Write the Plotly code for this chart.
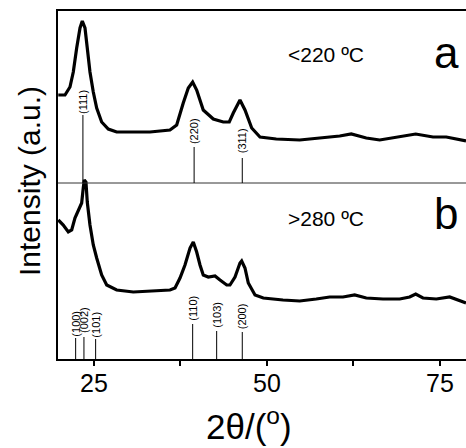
import plotly.graph_objects as go

# ---------------- data ----------------
# panel a (<220 ºC): 2theta, intensity (a.u.)
a_x = [19.84, 20.81, 21.53, 22.01, 22.50, 22.98, 23.31, 23.70, 24.03, 24.42, 24.90,
       25.39, 26.11, 27.07, 28.28, 30.68, 33.09, 35.98, 36.95, 37.90, 38.63, 39.26,
       39.84, 40.79, 42.24, 43.68, 44.55, 45.13, 46.10, 46.82, 47.79, 48.99, 51.34,
       54.73, 57.62, 60.51, 62.18, 64.35, 66.29, 69.18, 71.49, 73.99, 75.91, 78.76]
a_y = [264, 264, 272, 287, 311, 331, 338, 331, 311, 287, 267,
       251, 237, 230, 227, 227, 227, 229, 234, 256, 271, 277,
       269, 249, 240, 237, 237, 246, 259, 249, 231, 222, 220,
       219, 221, 223, 225, 221, 219, 222, 225, 222, 222, 218]

# panel b (>280 ºC)
b_x = [19.84, 20.56, 21.29, 21.78, 22.25, 22.73, 23.22, 23.45, 23.60, 23.84, 24.03,
       24.42, 24.90, 25.39, 26.11, 26.84, 28.28, 30.68, 33.09, 35.98, 36.71, 37.43,
       38.15, 38.88, 39.35, 39.84, 40.32, 40.79, 41.52, 42.49, 43.21, 44.18, 44.65,
       45.38, 46.10, 46.34, 46.82, 47.30, 48.27, 49.47, 52.31, 54.73, 57.12, 59.06,
       60.98, 62.67, 64.35, 66.76, 69.18, 70.62, 71.49, 72.54, 74.47, 76.40, 78.76]
b_y = [139, 134, 127, 129, 141, 149, 156, 171, 179, 177, 157,
       134, 114, 101, 84, 74, 69, 67, 68, 69, 71, 81,
       94, 111, 117, 107, 94, 84, 82, 83, 79, 74, 74,
       82, 96, 98, 91, 76, 64, 61, 59, 58, 60, 62,
       62, 64, 61, 60, 60, 62, 65, 61, 60, 62, 56]

# reference reflections, panel a
a_ref_pos = [23.4, 39.47, 46.43]
a_ref_lab = ["(111)", "(220)", "(311)"]
a_ref_top = [244, 212, 201]
a_lab_y = [257, 228, 218]

# reference reflections, panel b
b_ref_pos = [22.35, 23.55, 25.24, 39.26, 42.73, 46.43]
b_ref_lab = ["(100)", "(002)", "(101)", "(110)", "(103)", "(200)"]
b_ref_top = [21, 22, 20, 35, 28, 27]
b_lab_y = [35, 39, 34, 51, 44, 43]

panel_split = 176          # divider between the two patterns
x_range = [19.8, 78.76]
y_range = [0, 348]

tick_vals = [25, 50, 75]
tick_text = ["25", "50", "75"]

FONT = "Liberation Sans, Arial, sans-serif"

fig = go.Figure()

fig.add_trace(go.Scatter(x=a_x, y=a_y, mode="lines",
                         line=dict(color="black", width=3.2), hoverinfo="skip"))
fig.add_trace(go.Scatter(x=b_x, y=b_y, mode="lines",
                         line=dict(color="black", width=3.2), hoverinfo="skip"))

# divider
fig.add_trace(go.Scatter(x=x_range, y=[panel_split, panel_split], mode="lines",
                         line=dict(color="#333", width=1), hoverinfo="skip"))

# reference sticks
def sticks(pos, base, tops):
    xs, ys = [], []
    for p, t in zip(pos, tops):
        xs += [p, p, None]
        ys += [base, t, None]
    return xs, ys

sx, sy = sticks(a_ref_pos, panel_split, a_ref_top)
fig.add_trace(go.Scatter(x=sx, y=sy, mode="lines",
                         line=dict(color="black", width=1), hoverinfo="skip"))
sx, sy = sticks(b_ref_pos, 0, b_ref_top)
fig.add_trace(go.Scatter(x=sx, y=sy, mode="lines",
                         line=dict(color="black", width=1), hoverinfo="skip"))

for p, lab, ly in zip(a_ref_pos + b_ref_pos, a_ref_lab + b_ref_lab, a_lab_y + b_lab_y):
    fig.add_annotation(x=p, y=ly, text=lab, textangle=-90, showarrow=False,
                       font=dict(family=FONT, size=11, color="black"),
                       xanchor="center", yanchor="middle")

def ptext(px, py, text, size, angle=0):
    fig.add_annotation(x=(px - 58) / 408, y=(359 - py) / 348,
                       xref="paper", yref="paper", text=text, showarrow=False,
                       textangle=angle, xanchor="center", yanchor="middle",
                       font=dict(family=FONT, size=size, color="black"))

# panel texts
ptext(326, 55, "<220 ºC", 21)
ptext(326, 218, ">280 ºC", 21)
ptext(446, 52, "a", 44)
ptext(446, 214, "b", 44)

# axis titles
ptext(249, 424, "2θ/(<sup>o</sup>)", 35)
ptext(29, 181, "Intensity (a.u.)", 30, -90)

fig.update_layout(
    width=466, height=448,
    margin=dict(l=58, r=0, t=11, b=89),
    paper_bgcolor="white", plot_bgcolor="white",
    showlegend=False,
    font=dict(family=FONT, color="black"),
    xaxis=dict(range=x_range, showgrid=False, zeroline=False,
               showline=True, linecolor="black", linewidth=1.5, mirror=True,
               ticks="outside", ticklen=5, tickwidth=1.5, tickcolor="black",
               tickvals=tick_vals, ticktext=tick_text, ticklabelstandoff=-4,
               tickfont=dict(family=FONT, size=25, color="black"),
               minor=dict(tickvals=[37.5, 62.5], ticks="outside", ticklen=5,
                          tickwidth=1.5, tickcolor="black")),
    yaxis=dict(range=y_range, showgrid=False, zeroline=False,
               showline=True, linecolor="black", linewidth=1.5,
               showticklabels=False, ticks=""),
)

fig.write_html("out.html")
